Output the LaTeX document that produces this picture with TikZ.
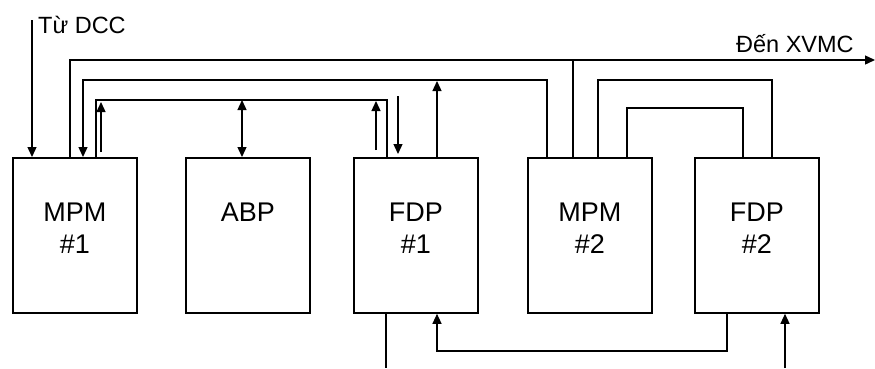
\documentclass[tikz,border=0pt]{standalone}
\usepackage{fontspec}
\setmainfont{Liberation Sans}
\usetikzlibrary{arrows.meta}
\begin{document}
\begin{tikzpicture}[x=1pt,y=-1pt,
  box/.style={draw, line width=1.8pt, minimum width=124pt, minimum height=155pt, inner sep=0pt, anchor=north west},
  wire/.style={line width=1.3pt},
  arr/.style={wire, -{Triangle[length=10pt,width=9pt]}},
  darr/.style={wire, {Triangle[length=10pt,width=9pt]}-{Triangle[length=10pt,width=9pt]}},
  lbl/.style={font=\fontsize{27}{32}\selectfont, align=center, inner sep=0pt, anchor=north},
  note/.style={font=\fontsize{23.5}{26}\selectfont, inner sep=0pt, anchor=base west}]
\useasboundingbox (0,0) rectangle (875,368);

% boxes
\node[box] (m1) at (12,157) {};
\node[box] (ab) at (185,157) {};
\node[box] (f1) at (353,157) {};
\node[box] (m2) at (527,157) {};
\node[box] (f2) at (694,157) {};

\node[lbl] at ([yshift=-46pt]m1.north) {MPM\\\#1};
\node[lbl] at ([yshift=-46pt]ab.north) {ABP};
\node[lbl] at ([yshift=-46pt]f1.north) {FDP\\\#1};
\node[lbl] at ([yshift=-46pt]m2.north) {MPM\\\#2};
\node[lbl] at ([yshift=-46pt]f2.north) {FDP\\\#2};

\node[note] at (38,33) {Từ DCC};
\node[note] at (736,52) {Đến XVMC};

% levels
\coordinate (yA) at (0,60);
\coordinate (yB) at (0,80);
\coordinate (yC) at (0,100);
\coordinate (yD) at (0,96);
\coordinate (yE) at (0,108);
\coordinate (yL) at (0,351);

% ports on top edges
\coordinate (m1d) at ([xshift=20pt]m1.north west);
\coordinate (m1a) at ([xshift=58pt]m1.north west);
\coordinate (m1b) at ([xshift=71pt]m1.north west);
\coordinate (m1c) at ([xshift=84pt]m1.north west);
\coordinate (m1u) at ([xshift=89pt]m1.north west);
\coordinate (abp) at ([xshift=57pt]ab.north west);
\coordinate (f1u) at ([xshift=23pt]f1.north west);
\coordinate (f1c) at ([xshift=34pt]f1.north west);
\coordinate (f1d) at ([xshift=45pt]f1.north west);
\coordinate (f1b) at ([xshift=84pt]f1.north west);
\coordinate (m2b) at ([xshift=20pt]m2.north west);
\coordinate (m2a) at ([xshift=46pt]m2.north west);
\coordinate (m2d) at ([xshift=71pt]m2.north west);
\coordinate (m2e) at ([xshift=100pt]m2.north west);
\coordinate (f2e) at ([xshift=49pt]f2.north west);
\coordinate (f2d) at ([xshift=78pt]f2.north west);
% ports on bottom edges
\coordinate (f1o) at ([xshift=33pt]f1.south west);
\coordinate (f1i) at ([xshift=84pt]f1.south west);
\coordinate (f2o) at ([xshift=33pt]f2.south west);
\coordinate (f2i) at ([xshift=91pt]f2.south west);
% free ends
\coordinate (dcc) at (32,20);
\coordinate (xvmc) at (875,60);
\coordinate (out1) at (386,368);
\coordinate (in2) at (785,368);

% connectors
\draw[arr] (dcc) -- (m1d);
\draw[arr] (m1a) |- (xvmc);
\draw[wire] (m2a) -- (m2a |- yA);
\draw[arr] (m2b) -- (m2b |- yB) -| (m1b);
\draw[wire] (m1c) -- (m1c |- yC) -| (f1c);
\draw[arr, shorten <=5pt, shorten >=2pt] (m1u) -- (m1u |- yC);
\draw[darr] (abp) -- (abp |- yC);
\draw[arr, shorten <=7pt, shorten >=1pt] (f1u) -- (f1u |- yC);
\draw[arr, shorten >=3pt] (f1d |- yD) -- (f1d);
\draw[arr, shorten >=1pt] (f1b) -- (f1b |- yB);
\draw[wire] (m2d) -- (m2d |- yB) -| (f2d);
\draw[wire] (m2e) -- (m2e |- yE) -| (f2e);
\draw[arr] (f2o) -- (f2o |- yL) -| (f1i);
\draw[wire] (f1o) -- (out1);
\draw[arr] (in2) -- (f2i);
\end{tikzpicture}
\end{document}
